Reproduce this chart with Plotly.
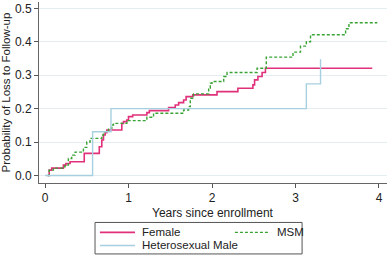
import plotly.graph_objects as go

# Kaplan-Meier style cumulative probability of loss to follow-up (step curves)
female_t = [0.03, 0.05, 0.08, 0.22, 0.25, 0.30, 0.47, 0.65, 0.68, 0.70, 0.72, 0.74, 0.92, 0.94, 0.98, 1.00,
            1.05, 1.22, 1.25, 1.48, 1.56, 1.60, 1.66, 1.69, 1.77, 2.06, 2.31, 2.49, 2.51, 2.55, 2.60, 2.64, 3.92]
female_p = [0.0, 0.016, 0.022, 0.031, 0.036, 0.041, 0.066, 0.086, 0.106, 0.121, 0.128, 0.136, 0.156, 0.161, 0.166, 0.176,
            0.181, 0.188, 0.194, 0.203, 0.211, 0.218, 0.226, 0.236, 0.241, 0.251, 0.261, 0.271, 0.286, 0.296, 0.308, 0.321, 0.321]

msm_t = [0.03, 0.05, 0.10, 0.22, 0.24, 0.28, 0.32, 0.36, 0.46, 0.50, 0.54, 0.68, 0.70, 0.76, 0.80, 0.82, 0.98,
         1.22, 1.30, 1.66, 1.72, 1.74, 1.78, 1.96, 1.98, 2.00, 2.14, 2.18, 2.54, 2.65, 2.97, 3.06, 3.13, 3.18,
         3.60, 3.64, 3.98]
msm_p = [0.0, 0.016, 0.022, 0.026, 0.031, 0.051, 0.061, 0.070, 0.084, 0.100, 0.111, 0.121, 0.131, 0.141, 0.151, 0.156, 0.164,
         0.174, 0.186, 0.196, 0.206, 0.231, 0.244, 0.261, 0.276, 0.281, 0.296, 0.308, 0.321, 0.354, 0.369, 0.387, 0.400, 0.421,
         0.439, 0.457, 0.457]

het_t = [0.0, 0.57, 0.79, 3.13, 3.30]
het_p = [0.0, 0.131, 0.200, 0.274, 0.348]

x_ticks = [0, 1, 2, 3, 4]
y_ticks = [0.0, 0.1, 0.2, 0.3, 0.4, 0.5]

series_names = ["Female", "MSM", "Heterosexual Male"]
series_colors = ["#e0307a", "#3aa335", "#a6cfe0"]
series_dash = ["solid", "3px,2px", "solid"]
series_width = [1.6, 1.4, 1.4]
series_data = [(female_t, female_p), (msm_t, msm_p), (het_t, het_p)]

fig = go.Figure()
for name, color, dash, w, (t, p) in zip(series_names, series_colors, series_dash, series_width, series_data):
    fig.add_trace(go.Scatter(x=t, y=p, mode="lines", name=name,
                             line=dict(color=color, width=w, dash=dash, shape="hv")))

font_family = "Liberation Sans, Arial, sans-serif"

# Manual legend (box with two columns), in paper coordinates
shapes = [dict(type="rect", xref="paper", yref="paper", x0=0.161, x1=0.756, y0=-0.392, y1=-0.218,
               line=dict(color="#555", width=1), fillcolor="white", layer="above")]
annotations = [dict(xref="paper", yref="paper", x=0.5, y=-0.163, text="Years since enrollment",
                    showarrow=False, xanchor="center", yanchor="middle", font=dict(size=12, color="#222"))]
legend_slots = [(0.175, -0.273), (0.563, -0.273), (0.175, -0.345)]
for (lx, ly), name, color, dash, w in zip(legend_slots, series_names, series_colors, series_dash, series_width):
    shapes.append(dict(type="line", xref="paper", yref="paper", x0=lx, x1=lx + 0.101, y0=ly, y1=ly,
                       line=dict(color=color, width=w, dash=dash)))
    annotations.append(dict(xref="paper", yref="paper", x=lx + 0.115, y=ly, text=name, showarrow=False,
                            xanchor="left", yanchor="middle", font=dict(size=11.5, color="#222")))

fig.update_layout(
    width=387, height=255,
    margin=dict(l=39, r=0, t=2, b=72),
    plot_bgcolor="white", paper_bgcolor="white",
    font=dict(family=font_family, size=12, color="#222"),
    showlegend=False,
    shapes=shapes,
    annotations=annotations,
    xaxis=dict(range=[-0.072, 4.096], tickvals=x_ticks, ticks="outside", ticklen=4,
               tickcolor="#555", showline=True, linecolor="#666", linewidth=1,
               showgrid=False, zeroline=False, automargin=False,
               tickfont=dict(size=12)),
    yaxis=dict(range=[-0.0225, 0.519], tickvals=y_ticks, tickformat=".1f", ticks="outside", ticklen=4,
               tickcolor="#555", showline=True, linecolor="#666", linewidth=1,
               showgrid=True, gridcolor="#e4eef2", gridwidth=1, zeroline=False, automargin=False,
               title=dict(text="Probability of Loss to Follow-up", font=dict(size=11.5), standoff=4),
               tickfont=dict(size=12)),
)

fig.write_html("out.html", config={"displayModeBar": False},
               post_script="document.body.style.margin='0px';document.body.style.overflow='hidden';")
